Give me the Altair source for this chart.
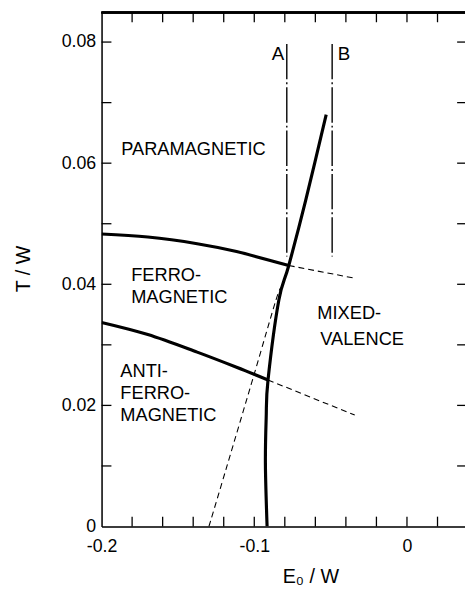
import altair as alt
import pandas as pd

# ---- curves (E0/W, T/W) ----
para_ferro_x = [-0.2, -0.1697, -0.1374, -0.1116, -0.0774]
para_ferro_y = [0.0483, 0.0478, 0.0467, 0.0454, 0.0431]
para_ferro_ext_x = [-0.0774, -0.0342]
para_ferro_ext_y = [0.0431, 0.0410]

ferro_af_x = [-0.2, -0.1697, -0.1374, -0.1116, -0.0910]
ferro_af_y = [0.0337, 0.0317, 0.0288, 0.0263, 0.0242]
ferro_af_ext_x = [-0.0910, -0.0342]
ferro_af_ext_y = [0.0242, 0.0184]

mv_x = [-0.0916, -0.0927, -0.0922, -0.0910, -0.0839, -0.0774, -0.0665, -0.0529]
mv_y = [0.0, 0.0102, 0.0179, 0.0242, 0.0374, 0.0431, 0.0537, 0.0680]

mv_dash_x = [-0.1297, -0.1181, -0.1000, -0.0858, -0.0826]
mv_dash_y = [0.0, 0.0098, 0.0252, 0.0374, 0.0393]

ab_names = ["A", "B"]
ab_x = [-0.0787, -0.0490]
ab_y_top = 0.0797
ab_y_bottom = 0.0446
ab_label_x = [-0.0845, -0.0413]
ab_label_y = [0.0780, 0.0780]

region_labels = ["PARAMAGNETIC", "FERRO-", "MAGNETIC", "ANTI-", "FERRO-",
                 "MAGNETIC", "MIXED-", "VALENCE"]
region_x = [-0.1871, -0.1806, -0.1806, -0.1877, -0.1877, -0.1877, -0.0587, -0.0568]
region_y = [0.0624, 0.0416, 0.0379, 0.0257, 0.0220, 0.0184, 0.0353, 0.0309]

x_major = [-0.2, -0.1, 0.0]
y_major = [0.0, 0.02, 0.04, 0.06, 0.08]
x_minor = [-0.18, -0.16, -0.14, -0.12, -0.10, -0.08, -0.06, -0.04, -0.02, 0.0, 0.02]
y_minor = [0.01, 0.02, 0.03, 0.04, 0.05, 0.06, 0.07, 0.08]

W, H = 369, 522
FONT = "Liberation Sans"

xs = alt.Scale(domain=[-0.2, 0.038], nice=False, zero=False)
ys = alt.Scale(domain=[0, 0.0849], nice=False, zero=False)

x_axis = alt.Axis(values=x_major, ticks=False, tickSize=0, grid=False,
                  labelExpr="datum.value == 0 ? '0' : replace(format(datum.value, '.1f'), '\u2212', '-')",
                  labelFlush=False, labelOverlap=False, labelPadding=11,
                  labelFontSize=18, labelFont=FONT, labelColor="black",
                  domainColor="black", domainWidth=1.5,
                  title="E\u2080 / W", titleFont=FONT, titleFontSize=20,
                  titleFontWeight="normal", titleColor="black",
                  titleX=212, titleY=57, titleBaseline="alphabetic")
y_axis = alt.Axis(values=y_major, ticks=False, tickSize=0, grid=False,
                  labelExpr="datum.value == 0 ? '0' : format(datum.value, '.2f')",
                  labelFlush=False, labelOverlap=False, labelPadding=6,
                  labelFontSize=18, labelFont=FONT, labelColor="black",
                  domainColor="black", domainWidth=1.5,
                  title="T / W", titleFont=FONT, titleFontSize=20,
                  titleFontWeight="normal", titleColor="black",
                  titleX=-79, titleY=260, titleBaseline="middle", titleAlign="center")

X = alt.X("x:Q", scale=xs, axis=x_axis)
Y = alt.Y("y:Q", scale=ys, axis=y_axis)


def curve(xv, yv):
    return pd.DataFrame({"x": xv, "y": yv, "i": list(range(len(xv)))})


def line(df, width, dash=None):
    kw = dict(color="black", strokeWidth=width, clip=True, interpolate="cardinal")
    if dash:
        kw["strokeDash"] = dash
    return alt.Chart(df).mark_line(**kw).encode(x=X, y=Y, order=alt.Order("i:Q"))


layers = [
    line(curve(para_ferro_x, para_ferro_y), 3.2),
    line(curve(para_ferro_ext_x, para_ferro_ext_y), 1.1, [6, 4]),
    line(curve(ferro_af_x, ferro_af_y), 3.2),
    line(curve(ferro_af_ext_x, ferro_af_ext_y), 1.1, [6, 4]),
    line(curve(mv_x, mv_y), 3.2),
    line(curve(mv_dash_x, mv_dash_y), 1.1, [6, 4]),
]

ab_df = pd.DataFrame({"x": ab_x, "y": [ab_y_top] * 2, "y2": [ab_y_bottom] * 2})
layers.append(alt.Chart(ab_df).mark_rule(color="black", strokeWidth=1.4,
                                         strokeDash=[36, 3, 2, 3]).encode(
    x=X, y=Y, y2="y2:Q"))

ab_lab = pd.DataFrame({"x": ab_label_x, "y": ab_label_y, "t": ab_names})
layers.append(alt.Chart(ab_lab).mark_text(font=FONT, fontSize=19, color="black",
                                          align="center", baseline="middle").encode(
    x=X, y=Y, text="t:N"))

reg = pd.DataFrame({"x": region_x, "y": region_y, "t": region_labels})
layers.append(alt.Chart(reg).mark_text(font=FONT, fontSize=18.5, color="black",
                                       align="left", baseline="middle").encode(
    x=X, y=Y, text="t:N"))

# inward ticks on all four sides
xt = pd.DataFrame({"x": x_minor})
yt = pd.DataFrame({"y": y_minor})
layers.append(alt.Chart(xt).mark_rule(color="black", strokeWidth=1.3).encode(
    x=X, y=alt.value(H), y2=alt.value(H - 10)))
layers.append(alt.Chart(xt).mark_rule(color="black", strokeWidth=1.3).encode(
    x=X, y=alt.value(0), y2=alt.value(10)))
layers.append(alt.Chart(yt).mark_rule(color="black", strokeWidth=1.3).encode(
    y=Y, x=alt.value(0), x2=alt.value(10)))
layers.append(alt.Chart(yt).mark_rule(color="black", strokeWidth=1.3).encode(
    y=Y, x=alt.value(W - 8), x2=alt.value(W)))
# top frame line
layers.append(alt.Chart(xt).mark_rule(color="black", strokeWidth=1.5).encode(
    x=alt.value(0), x2=alt.value(W), y=alt.value(0)))

chart = alt.layer(*layers).properties(
    width=W, height=H,
    autosize=alt.AutoSizeParams(type="none"),
    padding={"left": 95, "top": 0, "right": 0, "bottom": 60},
).configure_view(stroke=None).configure(background="white")

chart.save("out.html", embed_options={"renderer": "svg", "actions": False})
